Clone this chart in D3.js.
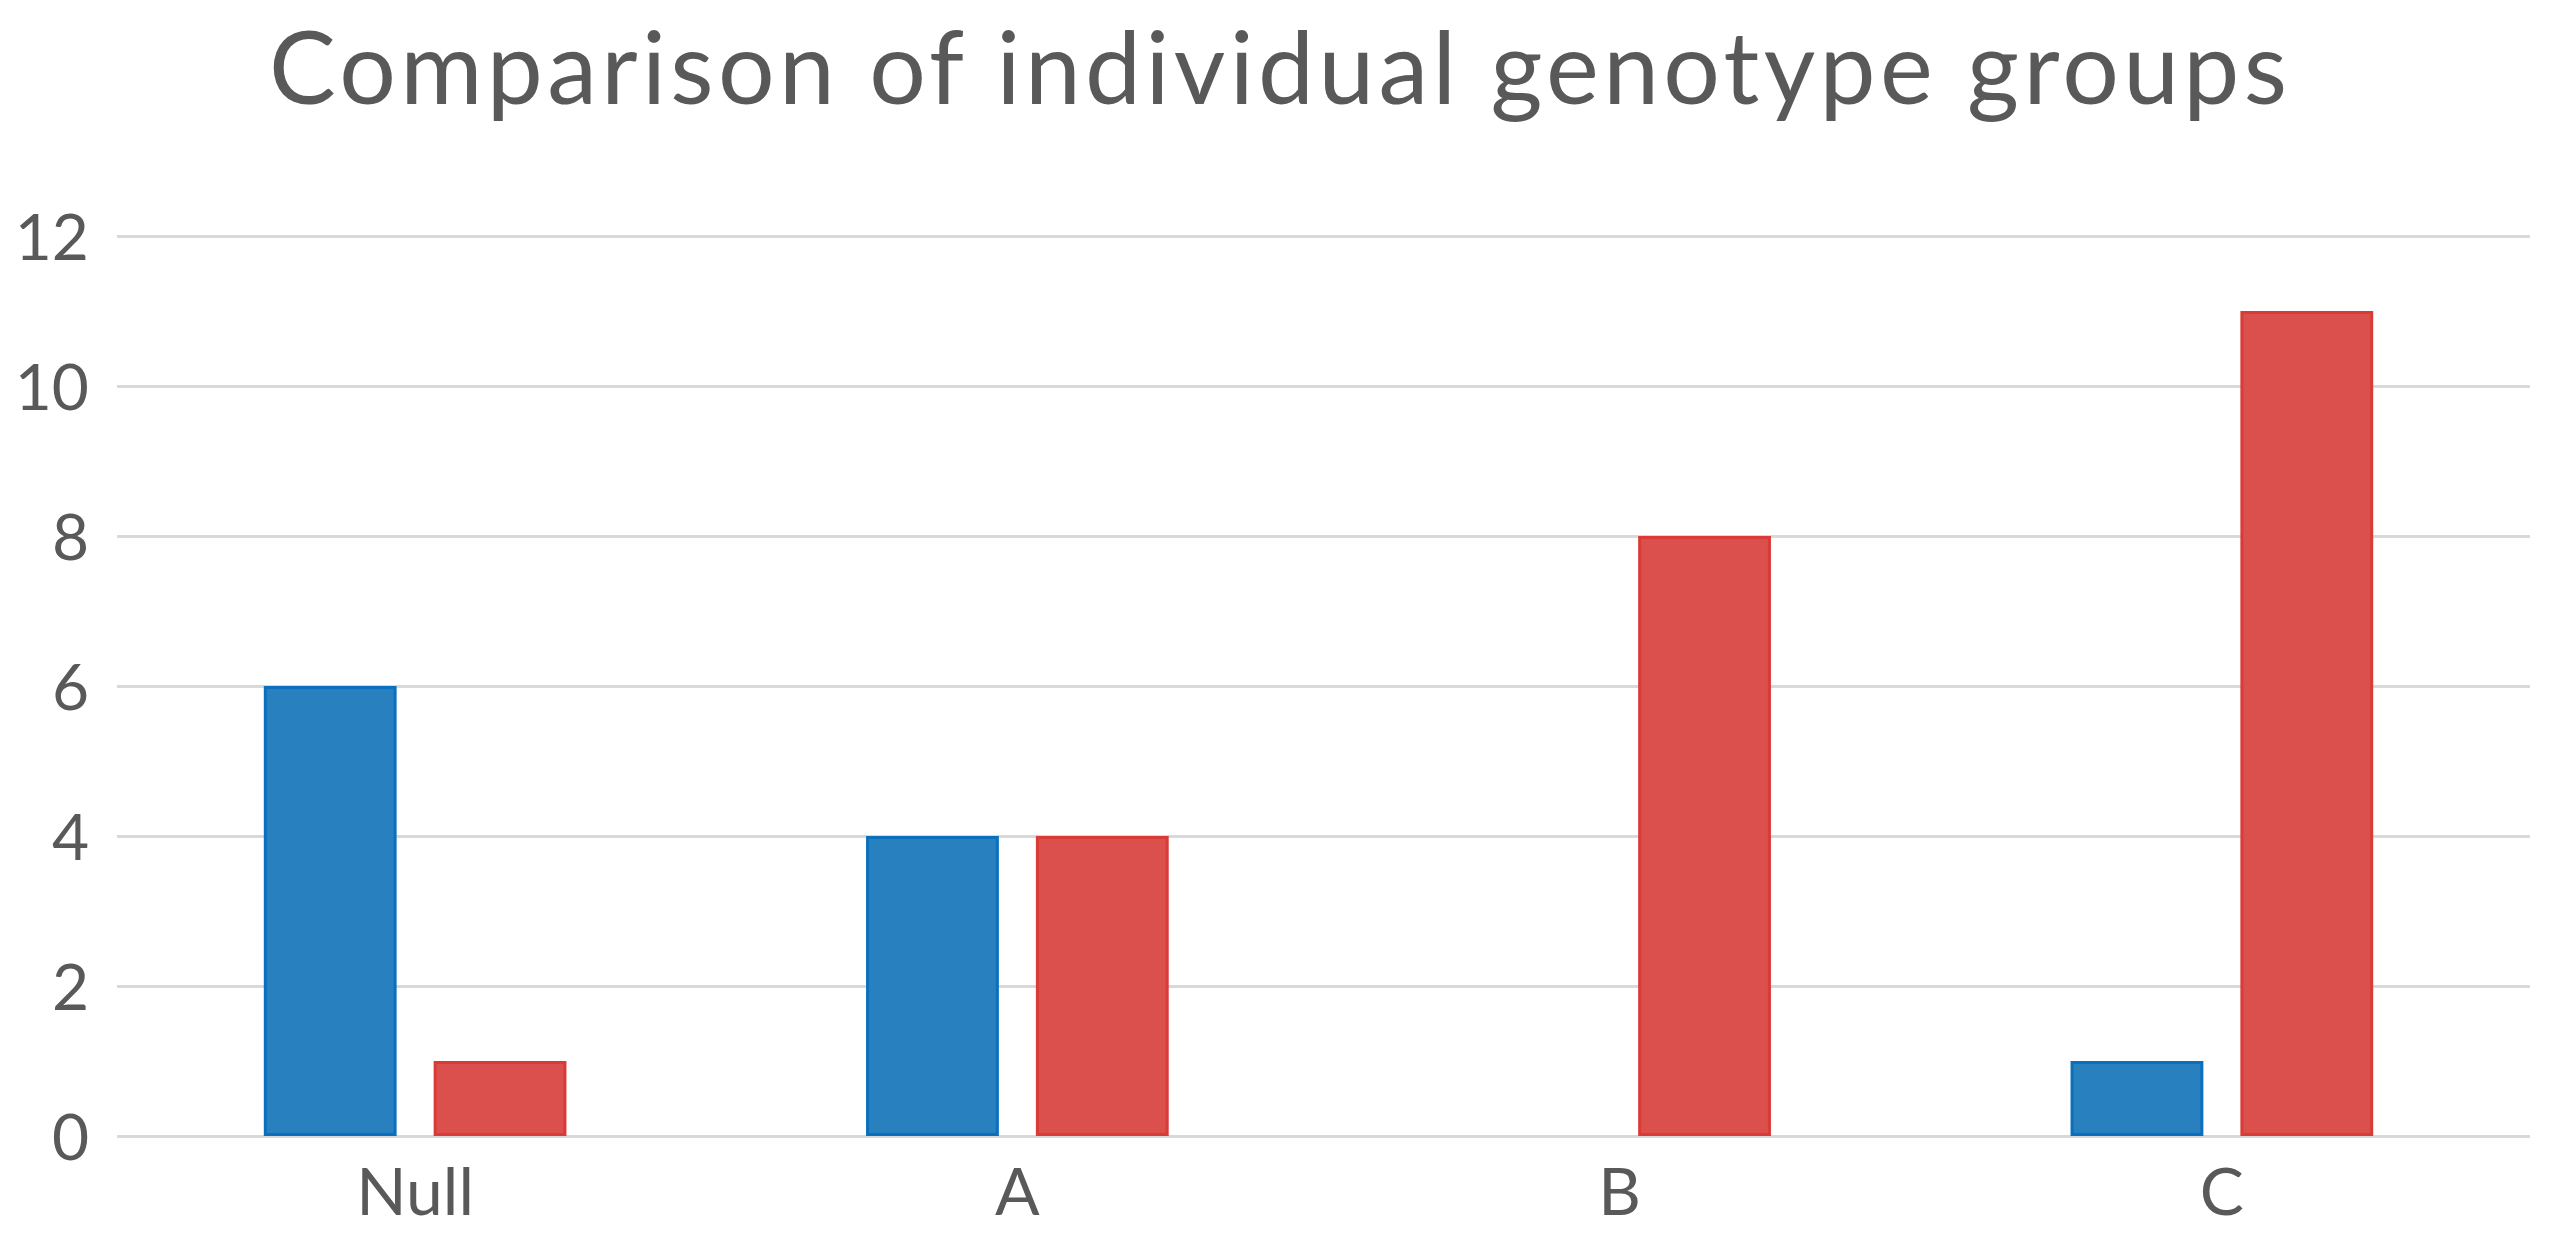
<!DOCTYPE html>
<html>
<head>
<meta charset="utf-8">
<script src="https://cdn.jsdelivr.net/npm/d3@7"></script>
<style>
  html, body { margin: 0; padding: 0; background: #ffffff; }
  svg { display: block; }
  text { font-family: Lato, "Open Sans", sans-serif; fill: #595959; }
</style>
</head>
<body>
<svg id="chart" width="2556" height="1237"></svg>
<script>
const title = "Comparison of individual genotype groups";
const categories = ["Null", "A", "B", "C"];
const seriesNames = ["Series1", "Series2"];
const series1Values = [6, 4, 0, 1];
const series2Values = [1, 4, 8, 11];
const yTicks = [0, 2, 4, 6, 8, 10, 12];
const seriesFill = ["#2880BF", "#DB4F4D"];
const seriesStroke = ["#0A70BE", "#D93B37"];

const W = 2556, H = 1237;
const margin = { left: 117, right: 26, top: 236, bottom: 101 };
const svg = d3.select("#chart");

const x0 = d3.scaleBand().domain(categories)
  .range([margin.left - 3, W - margin.right - 7]).paddingInner(0).paddingOuter(0);
const x1 = d3.scaleBand().domain(seriesNames)
  .range([0, x0.bandwidth()]).paddingInner(0.218).paddingOuter(0.882);
const y = d3.scaleLinear().domain([0, 12]).range([H - margin.bottom, margin.top]);

// gridlines + y tick labels
const yAxis = d3.axisLeft(y).tickValues(yTicks)
  .tickSize(-(W - margin.left - margin.right)).tickPadding(28)
  .tickFormat(d3.format("d"));
const gy = svg.append("g").attr("transform", `translate(${margin.left},0)`).call(yAxis);
gy.select(".domain").remove();
gy.selectAll(".tick line").attr("stroke", "#D9D9D9").attr("stroke-width", 3);
gy.selectAll(".tick text").style("font-size", "64px").attr("fill", "#595959").attr("dy", "0.36em");

// bars
const data = categories.map((c, i) => ({ cat: c, vals: [series1Values[i], series2Values[i]] }));
const groups = svg.append("g").selectAll("g").data(data).join("g")
  .attr("transform", d => `translate(${x0(d.cat)},0)`);
groups.selectAll("rect")
  .data(d => d.vals.map((v, k) => ({ v, k })).filter(e => e.v > 0))
  .join("rect")
  .attr("x", e => x1(seriesNames[e.k]) + 1.5)
  .attr("width", x1.bandwidth() - 3)
  .attr("y", e => y(e.v) + 1.5)
  .attr("height", e => y(0) - y(e.v) - 3)
  .attr("fill", e => seriesFill[e.k])
  .attr("stroke", e => seriesStroke[e.k])
  .attr("stroke-width", 3);

// x axis labels
const xAxis = d3.axisBottom(x0).tickSize(0).tickPadding(32);
const gx = svg.append("g").attr("transform", `translate(0,${y(0)})`).call(xAxis);
gx.select(".domain").remove();
gx.selectAll(".tick text").style("font-size", "66px").attr("fill", "#595959");

// title
svg.append("text").attr("x", W / 2).attr("y", 104)
  .attr("text-anchor", "middle").style("font-size", "100px")
  .attr("textLength", 2018).attr("lengthAdjust", "spacing")
  .text(title);
</script>
</body>
</html>
